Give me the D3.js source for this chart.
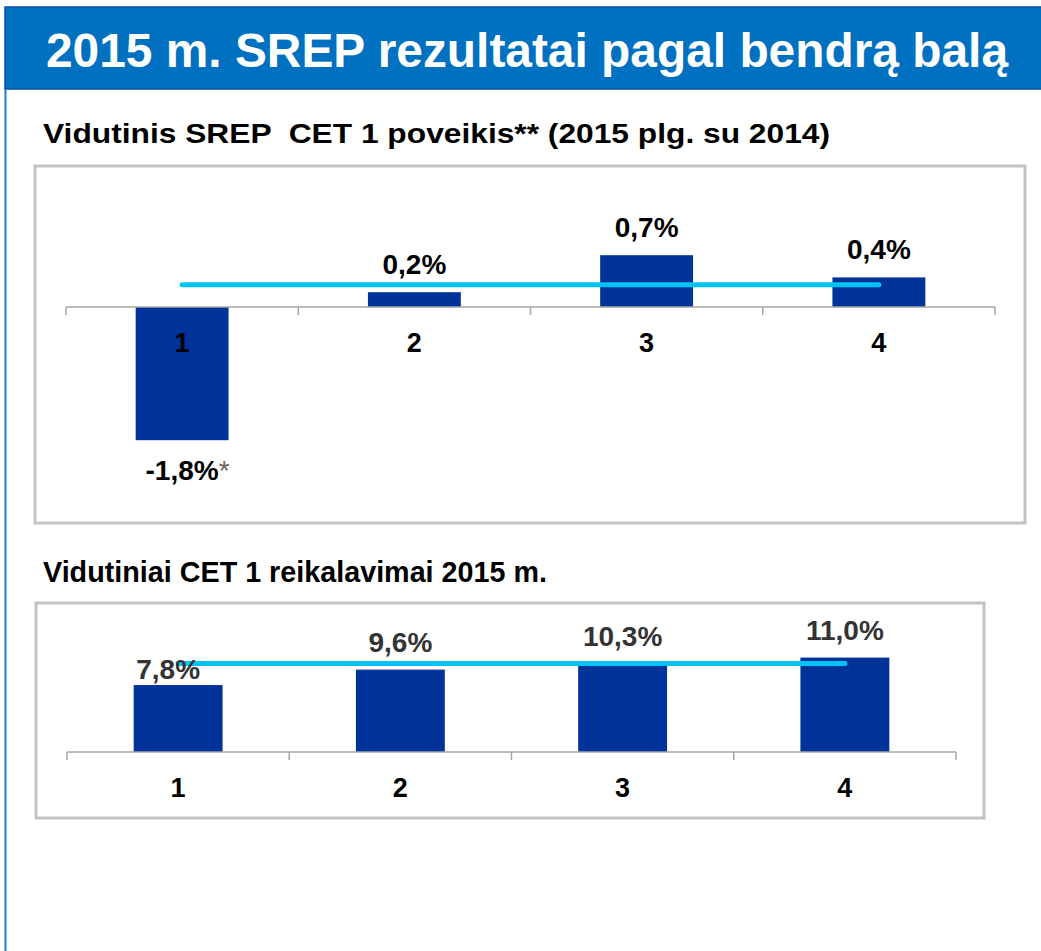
<!DOCTYPE html>
<html>
<head>
<meta charset="utf-8">
<script src="https://cdn.jsdelivr.net/npm/d3@7"></script>
<style>
  body { margin: 0; background: #fff; }
  text { font-family: Arial, "Liberation Sans", sans-serif; font-weight: bold; }
</style>
</head>
<body>
<div id="chart"></div>
<script>
// data
var categories = ["1", "2", "3", "4"];
var impactValues = [-1.8, 0.2, 0.7, 0.4];
var impactNotes = ["*", "", "", ""];
var impactAverage = 0.3;
var requirementValues = [7.8, 9.6, 10.3, 11.0];
var requirementAverage = 10.3;

var pageTitle = "2015 m. SREP rezultatai pagal bendrą balą";
var impactTitle = "Vidutinis SREP  CET 1 poveikis** (2015 plg. su 2014)";
var requirementTitle = "Vidutiniai CET 1 reikalavimai 2015 m.";

var W = 1041, H = 951;
var barColor = "#003399", lineColor = "#00c4f4", boxColor = "#c3c3c3", axisColor = "#a6a6a6";

// lithuanian number format: comma decimal
var lt = d3.formatLocale({decimal: ",", thousands: " ", grouping: [3], currency: ["", " €"], minus: "-"});
var pct = function(v) { return lt.format(".1f")(v) + "%"; };

var svg = d3.select("#chart").append("svg")
    .attr("width", W)
    .attr("height", H);

// banner + left rule
svg.append("rect")
    .attr("x", 5).attr("y", 7).attr("width", W - 4).attr("height", 82)
    .attr("fill", "#0070c0")
    .attr("stroke", "#0b4fa3").attr("stroke-width", 1.5);
svg.append("line")
    .attr("x1", 5.5).attr("x2", 5.5).attr("y1", 89).attr("y2", H)
    .attr("stroke", "#1a7fd6").attr("stroke-width", 2);
svg.append("text")
    .attr("x", 46).attr("y", 67)
    .attr("fill", "#fff")
    .style("font-size", "48px")
    .attr("textLength", 962).attr("lengthAdjust", "spacingAndGlyphs")
    .text(pageTitle);

function panel(o) {
  svg.append("text")
      .attr("x", o.titleX).attr("y", o.titleY)
      .attr("fill", "#000")
      .style("font-size", o.titleSize + "px")
      .style("white-space", "pre")
      .attr("textLength", o.titleWidth).attr("lengthAdjust", "spacingAndGlyphs")
      .text(o.title);

  svg.append("rect")
      .attr("x", o.box[0]).attr("y", o.box[1])
      .attr("width", o.box[2]).attr("height", o.box[3])
      .attr("fill", "#fff")
      .attr("stroke", boxColor).attr("stroke-width", 3);

  var x = d3.scaleBand().domain(categories).range(o.xRange);
  var y = d3.scaleLinear().domain(o.yDomain).range(o.yRange);
  var bw = x.bandwidth();
  var g = svg.append("g");

  // bars
  g.selectAll(".bar")
    .data(o.values)
    .enter().append("rect")
      .attr("x", function(d, i) { return x(categories[i]) + bw * 0.3; })
      .attr("width", bw * 0.4)
      .attr("y", function(d) { return y(Math.max(0, d)); })
      .attr("height", function(d) { return Math.abs(y(d) - y(0)); })
      .attr("fill", barColor);

  // category axis: line at zero, ticks at band edges
  var y0 = y(0);
  g.append("line")
      .attr("x1", o.xRange[0]).attr("x2", o.xRange[1])
      .attr("y1", y0).attr("y2", y0)
      .attr("stroke", axisColor).attr("stroke-width", 1.5);
  var edges = categories.map(function(c) { return x(c); }).concat([o.xRange[1]]);
  g.selectAll(".tick")
    .data(edges)
    .enter().append("line")
      .attr("x1", function(d) { return d; }).attr("x2", function(d) { return d; })
      .attr("y1", y0).attr("y2", y0 + 8)
      .attr("stroke", axisColor).attr("stroke-width", 1.5);

  // average line
  g.append("line")
      .attr("x1", x(categories[0]) + bw / 2)
      .attr("x2", x(categories[categories.length - 1]) + bw / 2)
      .attr("y1", y(o.average)).attr("y2", y(o.average))
      .attr("stroke", lineColor).attr("stroke-width", 5)
      .attr("stroke-linecap", "round");

  // category labels
  g.selectAll(".cat")
    .data(categories)
    .enter().append("text")
      .attr("x", function(d) { return x(d) + bw / 2; })
      .attr("y", y0 + 45)
      .attr("text-anchor", "middle")
      .attr("fill", "#000")
      .style("font-size", "27px")
      .text(function(d) { return d; });

  // value labels
  g.selectAll(".val")
    .data(o.values)
    .enter().append("text")
      .attr("x", function(d, i) { return x(categories[i]) + bw / 2 + (o.nudge[i] ? o.nudge[i][0] : 0); })
      .attr("y", function(d, i) {
        if (o.nudge[i]) return y(d) + o.nudge[i][1];
        return d < 0 ? y(d) + 40 : y(d) - 18;
      })
      .attr("text-anchor", "middle")
      .attr("fill", o.labelColor)
      .style("font-size", "28px")
      .text(function(d) { return pct(d); })
      .each(function(d, i) {
        var note = o.notes && o.notes[i];
        if (!note) return;
        var t = d3.select(this);
        var len = this.getComputedTextLength();
        g.append("text")
            .attr("x", +t.attr("x") + len / 2)
            .attr("y", t.attr("y"))
            .attr("fill", "#666")
            .style("font-size", "28px")
            .style("font-weight", "normal")
            .text(note);
      });
}

panel({
  title: impactTitle, titleX: 43, titleY: 143, titleSize: 28, titleWidth: 787,
  box: [35, 166, 990, 357],
  xRange: [66, 995], yDomain: [-2, 1], yRange: [455, 233],
  values: impactValues, average: impactAverage, notes: impactNotes,
  labelColor: "#000", nudge: []
});

panel({
  title: requirementTitle, titleX: 43, titleY: 582, titleSize: 30, titleWidth: 504,
  box: [36, 603, 948, 215],
  xRange: [67, 956], yDomain: [0, 12], yRange: [752, 649],
  values: requirementValues, average: requirementAverage, notes: null,
  labelColor: "#333", nudge: [[-10, -6]]
});
</script>
</body>
</html>
